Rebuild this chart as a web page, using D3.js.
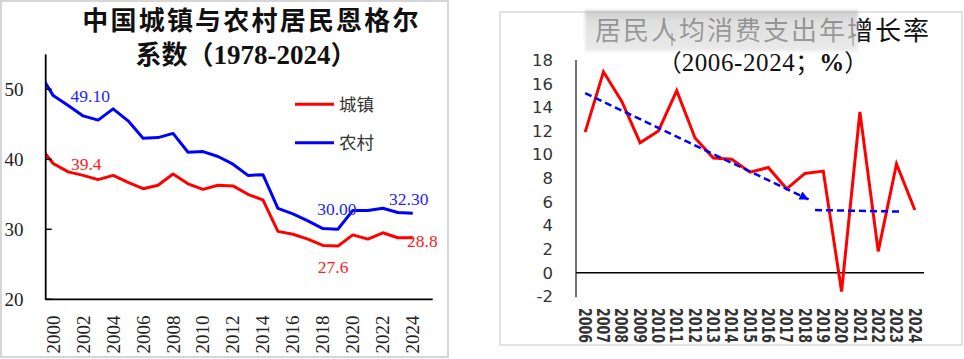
<!DOCTYPE html>
<html><head><meta charset="utf-8">
<script src="https://cdn.jsdelivr.net/npm/d3@7"></script>
<style>body{margin:0;background:#fff}svg{display:block}</style>
</head><body>
<svg id="c" width="964" height="359"></svg>
<script>
// ---------- Left panel data ----------
const engelYears = [1999,2000,2001,2002,2003,2004,2005,2006,2007,2008,2009,2010,2011,2012,2013,2014,2015,2016,2017,2018,2019,2020,2021,2022,2023,2024];
const urbanEngel = [42.1,39.4,38.2,37.7,37.1,37.7,36.7,35.8,36.3,37.9,36.5,35.7,36.3,36.2,35.0,34.2,29.7,29.3,28.6,27.7,27.6,29.2,28.6,29.5,28.8,28.8];
const ruralEngel = [52.6,49.1,47.7,46.2,45.6,47.2,45.5,43.0,43.1,43.7,41.0,41.1,40.4,39.3,37.7,37.8,33.0,32.2,31.2,30.1,30.0,32.7,32.7,33.0,32.4,32.3];
const engelTickYears = [2000,2002,2004,2006,2008,2010,2012,2014,2016,2018,2020,2022,2024];
const engelYTicks = [20,30,40,50];
const seriesNames = ["城镇","农村"];
const engelLabels = [
  {s:"rural", year:2000, value:49.1, text:"49.10"},
  {s:"urban", year:2000, value:39.4, text:"39.4"},
  {s:"rural", year:2019, value:30.0, text:"30.00"},
  {s:"rural", year:2024, value:32.3, text:"32.30"},
  {s:"urban", year:2019, value:27.6, text:"27.6"},
  {s:"urban", year:2024, value:28.8, text:"28.8"}
];
// ---------- Right panel data ----------
const growthYears = ["2006","2007","2008","2009","2010","2011","2012","2013","2014","2015","2016","2017","2018","2019","2020","2021","2022","2023","2024"];
const growthValues = [11.9,17.0,14.5,11.0,12.0,15.4,11.4,9.7,9.6,8.5,8.9,7.1,8.4,8.6,-1.6,13.6,1.8,9.2,5.3];
const growthYTicks = [-2,0,2,4,6,8,10,12,14,16,18];
const trendDown = {years:[2006,2018.2], values:[15.2,6.2]};
const trendFlat = {years:[2018.55,2023.3], values:[5.3,5.17]};

const svg = d3.select("#c");
const RED = "#ff0000", BLUE = "#0000ff";
const CJK = "'Noto Sans CJK SC', sans-serif";
const SERIF = "'Liberation Serif','DejaVu Serif',serif";
const SANS = "'DejaVu Sans',sans-serif";

// panel frames
svg.append("rect").attr("x",1).attr("y",1).attr("width",447).attr("height",356)
  .attr("fill","#fff").attr("stroke","#d6d6d6").attr("stroke-width",2);
svg.append("rect").attr("x",500).attr("y",12).attr("width",462).attr("height",333)
  .attr("fill","#fff").attr("stroke","#dadada").attr("stroke-width",1.5);

// ================= LEFT =================
const L = svg.append("g");
const xL = d3.scaleLinear().domain([1999.5, 2025.33]).range([45.7, 432.7]);
const yL = d3.scaleLinear().domain([20, 55]).range([299.3, 54.3]);

L.append("text").attr("x",251.5).attr("y",30).attr("text-anchor","middle")
  .attr("font-family",CJK).attr("font-weight","bold").attr("font-size",26)
  .attr("letter-spacing",2.2).attr("fill","#111").text("中国城镇与农村居民恩格尔");
const t2 = L.append("text").attr("x",246).attr("y",63.5).attr("text-anchor","middle")
  .attr("font-weight","bold").attr("font-size",26).attr("fill","#111");
t2.append("tspan").attr("font-family",CJK).text("系数（");
t2.append("tspan").attr("font-family",SERIF).attr("font-size",27).text("1978-2024");
t2.append("tspan").attr("font-family",CJK).text("）");

const defs = svg.append("defs");
defs.append("clipPath").attr("id","clipL")
  .append("rect").attr("x",xL.range()[0]).attr("y",40).attr("width",400).attr("height",270);

const lineL = (vals) => d3.line().x((d,i)=>xL(engelYears[i])).y(d=>yL(d))(vals);
L.append("path").attr("d",lineL(ruralEngel)).attr("fill","none").attr("stroke",BLUE)
  .attr("stroke-width",3).attr("stroke-linejoin","round").attr("clip-path","url(#clipL)");
L.append("path").attr("d",lineL(urbanEngel)).attr("fill","none").attr("stroke",RED)
  .attr("stroke-width",3).attr("stroke-linejoin","round").attr("clip-path","url(#clipL)");

// axes
L.append("line").attr("x1",xL.range()[0]).attr("x2",xL.range()[0]).attr("y1",yL.range()[1]).attr("y2",yL.range()[0]+0.7)
  .attr("stroke","#000").attr("stroke-width",1.8);
L.append("line").attr("x1",xL.range()[0]).attr("x2",xL.range()[1]).attr("y1",yL(20)).attr("y2",yL(20))
  .attr("stroke","#000").attr("stroke-width",1.8);
engelYTicks.forEach(v=>{
  L.append("line").attr("x1",xL.range()[0]).attr("x2",xL.range()[0]+6).attr("y1",yL(v)).attr("y2",yL(v))
    .attr("stroke","#000").attr("stroke-width",1.5);
  L.append("text").attr("x",23.5).attr("y",yL(v)).attr("dy","0.34em").attr("text-anchor","end")
    .attr("font-family",SERIF).attr("font-size",19).attr("fill","#222").text(v);
});
engelTickYears.forEach(y=>{
  L.append("text").attr("transform",`translate(${xL(y)},315.5) rotate(-90)`)
    .attr("text-anchor","end").attr("dy","0.34em")
    .attr("font-family",SERIF).attr("font-size",19).attr("fill","#222").text(y);
});

// legend
[[RED,104.3,seriesNames[0]],[BLUE,142.7,seriesNames[1]]].forEach(([c,y,n])=>{
  L.append("line").attr("x1",295).attr("x2",334).attr("y1",y).attr("y2",y).attr("stroke",c).attr("stroke-width",3);
  L.append("text").attr("x",339).attr("y",y).attr("dy","0.36em").attr("font-family",CJK)
    .attr("font-size",17.5).attr("fill","#333").text(n);
});

// data labels
const labOff = {"49.10":[17.4,6,"start"],"39.4":[17.7,6.5,"start"],"30.00":[-1,-14,"middle"],
                "32.30":[-4,-8,"middle"],"27.6":[-4.7,27,"middle"],"28.8":[-5.7,9,"start"]};
engelLabels.forEach(l=>{
  const o = labOff[l.text];
  L.append("text").attr("x",xL(l.year)+o[0]).attr("y",yL(l.value)+o[1]).attr("text-anchor",o[2])
    .attr("font-family",SERIF).attr("font-size",17.5).attr("fill",l.s==="rural"?"#2323ff":"#ff2020").text(l.text);
});

// ================= RIGHT =================
const R = svg.append("g");
const xR = d3.scalePoint().domain(growthYears).range([576, 924]).padding(0.5);
const xRlin = d3.scaleLinear().domain([2006, 2024]).range([xR("2006"), xR("2024")]);
const yR = d3.scaleLinear().domain([-2, 18]).range([296.3, 60]);

// title
R.append("text").attr("x",595).attr("y",39.5).attr("font-family",CJK).attr("font-size",26)
  .attr("letter-spacing",2).attr("fill","#111").text("居民人均消费支出年增长率");
const grad = defs.append("linearGradient").attr("id","gbox").attr("x1",0).attr("y1",0).attr("x2",0).attr("y2",1);
grad.append("stop").attr("offset","0").attr("stop-color","#b0b0b0");
grad.append("stop").attr("offset","0.25").attr("stop-color","#d0d0d0");
grad.append("stop").attr("offset","1").attr("stop-color","#e2e2e2");
defs.append("filter").attr("id","blur").attr("x","-10%").attr("y","-30%").attr("width","120%").attr("height","160%")
  .append("feGaussianBlur").attr("stdDeviation",1.6);
R.append("rect").attr("x",585).attr("y",10.5).attr("width",273).attr("height",41)
  .attr("fill","url(#gbox)").attr("opacity",0.68).attr("filter","url(#blur)");
R.append("line").attr("x1",672).attr("x2",672).attr("y1",33).attr("y2",46).attr("stroke","#888").attr("stroke-width",1);
R.append("line").attr("x1",853).attr("x2",853).attr("y1",33).attr("y2",46).attr("stroke","#888").attr("stroke-width",1);
const st = R.append("text").attr("x",763).attr("y",71).attr("text-anchor","middle")
  .attr("font-size",24).attr("fill","#111");
st.append("tspan").attr("font-family",CJK).text("（");
st.append("tspan").attr("font-family",SERIF).attr("font-size",25).attr("letter-spacing",0.6).text("2006-2024");
st.append("tspan").attr("font-family",CJK).text("；");
st.append("tspan").attr("font-family",SERIF).attr("font-size",25).attr("font-weight","bold").text("%");
st.append("tspan").attr("font-family",CJK).text("）");

// axes
R.append("line").attr("x1",576).attr("x2",576).attr("y1",yR(18)).attr("y2",yR(-2)+1)
  .attr("stroke","#444").attr("stroke-width",1.5);
R.append("line").attr("x1",576).attr("x2",924).attr("y1",yR(0)).attr("y2",yR(0))
  .attr("stroke","#000").attr("stroke-width",1.5);
growthYTicks.forEach(v=>{
  R.append("text").attr("x",553).attr("y",yR(v)).attr("dy","0.36em").attr("text-anchor","end")
    .attr("font-family",SANS).attr("font-size",16.5).attr("fill","#333").text(v);
});
growthYears.forEach(y=>{
  R.append("text").attr("transform",`translate(${xR(y)},308) rotate(90)`).attr("dy","0.36em")
    .attr("font-family",SANS).attr("font-size",17.5).attr("font-weight","bold").attr("fill","#333")
    .attr("textLength",35).attr("lengthAdjust","spacingAndGlyphs").text(y);
});

// red line
R.append("path").attr("d", d3.line().x((d,i)=>xR(growthYears[i])).y(d=>yR(d))(growthValues))
  .attr("fill","none").attr("stroke",RED).attr("stroke-width",3).attr("stroke-linejoin","miter");

// trend lines
defs.append("marker").attr("id","arr").attr("viewBox","0 0 10 10").attr("refX",10).attr("refY",5)
  .attr("markerWidth",4.2).attr("markerHeight",3.6).attr("markerUnits","strokeWidth").attr("orient","auto")
  .append("path").attr("d","M0,0L10,5L0,10Z").attr("fill",BLUE);
const tl = (t)=> d3.line().x((d,i)=>xRlin(t.years[i])).y(d=>yR(d))(t.values);
R.append("path").attr("d",tl(trendDown)).attr("fill","none").attr("stroke",BLUE).attr("stroke-width",2.5)
  .attr("stroke-dasharray","7,4").attr("marker-end","url(#arr)");
R.append("path").attr("d",tl(trendFlat)).attr("fill","none").attr("stroke",BLUE).attr("stroke-width",2.5)
  .attr("stroke-dasharray","7,4");
</script>
</body></html>
